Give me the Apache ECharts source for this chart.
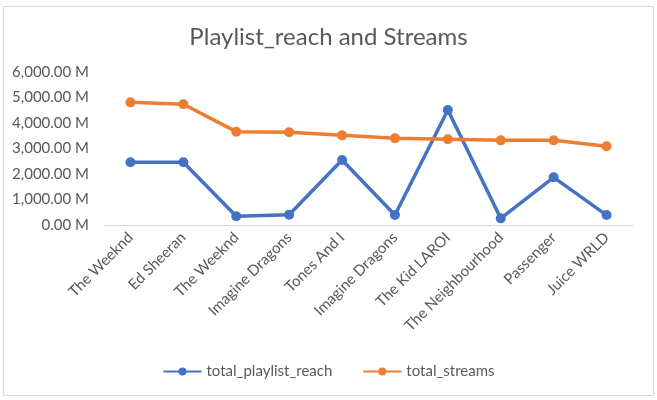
<!DOCTYPE html>
<html><head><meta charset="utf-8">
<script src="https://cdn.jsdelivr.net/npm/echarts@6/dist/echarts.min.js"></script>
<style>html,body{margin:0;padding:0;background:#fff}#c{width:657px;height:400px}</style>
</head><body><div id="c"></div>
<script>
const categories = ["The Weeknd","Ed Sheeran","The Weeknd","Imagine Dragons","Tones And I","Imagine Dragons","The Kid LAROI","The Neighbourhood","Passenger","Juice WRLD"];
const playlistReach = [2460, 2460, 340, 400, 2550, 390, 4510, 260, 1870, 390];
const totalStreams = [4810, 4735, 3660, 3640, 3515, 3400, 3360, 3320, 3320, 3090];
const yTicks = [0, 1000, 2000, 3000, 4000, 5000, 6000];

const font = "Lato, 'Open Sans', sans-serif";
const chart = echarts.init(document.getElementById('c'));
chart.setOption({
  backgroundColor: '#fff',
  animation: false,
  title: { text: 'Playlist_reach and Streams', left: 'center', top: 20,
    textStyle: { fontFamily: font, fontSize: 24, fontWeight: 'normal', color: '#595959' } },
  graphic: [{ type: 'rect', shape: { x: 3.5, y: 6.5, width: 650, height: 389 },
    style: { fill: 'none', stroke: '#d9d9d9', lineWidth: 1 }, silent: true }],
  legend: { top: 359, left: 'center', itemWidth: 38, itemHeight: 10, itemGap: 30,
    textStyle: { fontFamily: font, fontSize: 15, color: '#595959' },
    data: ['total_playlist_reach', 'total_streams'] },
  grid: { left: 104, right: 24, top: 72, bottom: 175, containLabel: false },
  xAxis: { type: 'category', data: categories, boundaryGap: true,
    axisLine: { lineStyle: { color: '#d9d9d9' } }, axisTick: { show: false },
    axisLabel: { rotate: 45, interval: 0, fontFamily: font, fontSize: 15, color: '#595959', margin: 10 } },
  yAxis: { type: 'value', min: yTicks[0], max: yTicks[yTicks.length - 1], interval: 1000,
    axisLine: { show: false }, axisTick: { show: false }, splitLine: { show: false },
    axisLabel: { fontFamily: font, fontSize: 15, color: '#595959', margin: 15,
      formatter: v => v.toLocaleString('en-US', { minimumFractionDigits: 2, maximumFractionDigits: 2 }) + ' M' } },
  series: [
    { name: 'total_playlist_reach', type: 'line', data: playlistReach, symbol: 'circle', symbolSize: 10,
      itemStyle: { color: '#4472c4' }, lineStyle: { width: 3.5, color: '#4472c4' } },
    { name: 'total_streams', type: 'line', data: totalStreams, symbol: 'circle', symbolSize: 10,
      itemStyle: { color: '#ed7d31' }, lineStyle: { width: 3.5, color: '#ed7d31' } }
  ]
});
</script></body></html>
